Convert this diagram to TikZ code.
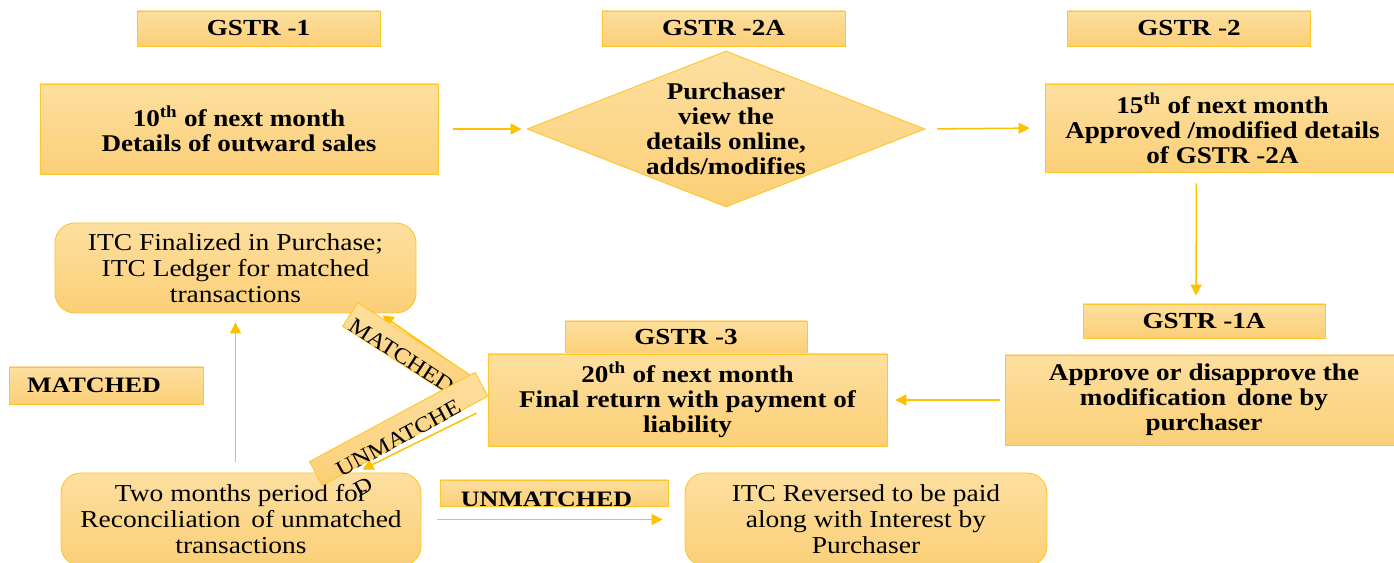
\documentclass[tikz,border=0pt]{standalone}
\usepackage{fontspec}
\setmainfont{Liberation Serif}[FakeStretch=1.13]
\newfontfamily\hdfont{Liberation Serif}[FakeStretch=1.18]
\usetikzlibrary{arrows.meta,shapes.geometric}
\definecolor{gold}{HTML}{FFC000}
\definecolor{filltop}{HTML}{FDDF9F}
\definecolor{fillbot}{HTML}{FBCF77}
\definecolor{edge}{HTML}{FFC629}
\tikzset{
  card/.style={draw=edge, line width=0.9pt, top color=filltop, bottom color=fillbot, inner sep=0pt},
  hdbox/.style={card, minimum width=243, minimum height=35, font=\hdfont\bfseries\fontsize{23}{24}\selectfont},
  mainbox/.style={card, align=center, font=\bfseries\fontsize{24}{25}\selectfont},
  maintext/.style={align=center, inner sep=0pt, font=\bfseries\fontsize{24}{25}\selectfont},
  softbox/.style={card, rounded corners=20, align=center, font=\fontsize{24.3}{26}\selectfont},
  tagtext/.style={inner sep=0pt, font=\hdfont\bfseries\fontsize{22}{24}\selectfont},
  slanttext/.style={inner sep=0pt, font=\fontsize{22}{26}\selectfont},
  conn/.style={draw=gold, line width=1.5pt, -{Triangle[length=11pt,width=11pt]}},
}
\begin{document}
\begin{tikzpicture}[x=1pt,y=1pt]
\useasboundingbox (0,0) rectangle (1394,562);
\fill[white] (0,0) rectangle (1394,562);

% top row: return headers
\node[hdbox] (h1)  at (258.5,533.5) {GSTR -1};
\node[hdbox] (h2a) at (723.5,533.5) {GSTR -2A};
\node[hdbox] (h2)  at (1189,533.5)  {GSTR -2};

% top row: steps
\node[mainbox, minimum width=398, minimum height=90] (b1) at (239,433)
  {10\textsuperscript{th} of next month\\Details of outward sales};
\node[card, shape=diamond, minimum width=398, minimum height=156] (dia) at (726,433) {};
\node[maintext] (dtxt) at (dia.center) {Purchaser\\view the\\details online,\\adds/modifies};
\node[mainbox, minimum width=355, minimum height=88] (b3) at (1222.5,434)
  {15\textsuperscript{th} of next month\\Approved /modified details\\of GSTR -2A};

% middle row
\node[hdbox, minimum width=242, minimum height=34] (h1a) at (1204,241) {GSTR -1A};
\node[mainbox, minimum width=398, minimum height=90] (b1a) at (1204,162)
  {Approve or disapprove the\\modification\, done by\\purchaser};
\node[hdbox, minimum width=242, minimum height=33] (h3) at (686,224.5) {GSTR -3};
\node[mainbox, minimum width=399, minimum height=92] (g3) at (687.5,162)
  {20\textsuperscript{th} of next month\\Final return with payment of\\liability};

% left column and bottom row
\node[softbox, minimum width=361, minimum height=90] (itc) at (235.5,294)
  {ITC Finalized in Purchase;\\ITC Ledger for matched\\transactions};
\node[card, minimum width=194, minimum height=37] (lm) at (106,176.5) {};
\node[tagtext, anchor=west] (lmt) at (27,176.5) {MATCHED};
\node[softbox, minimum width=360, minimum height=93] (tm) at (241,42.5)
  {Two months period for\\Reconciliation\, of unmatched\\transactions};
\node[card, minimum width=228, minimum height=26] (um) at (554,69) {};
\node[tagtext] (umt) at (546.5,62.5) {UNMATCHED};
\node[softbox, minimum width=362, minimum height=93] (rev) at (866,42.5)
  {ITC Reversed to be paid\\along with Interest by\\Purchaser};

% connectors
\draw[conn, shorten <=15, shorten >=5] (b1.east) -- (dia.west);
\draw[conn, shorten <=12, shorten >=15] (dia.east) -- (b3.west);
\draw[conn, shorten <=11, shorten >=8] ([xshift=-26]b3.south) -- ([xshift=-8]h1a.north);
\draw[conn, shorten <=5, shorten >=8] (b1a.west) -- (g3.east);
\draw[conn, shorten <=11, shorten >=9] (tm.north -| itc.south) -- (itc.south);
\draw[conn, shorten <=16, shorten >=22] (tm.east) -- (rev.west);
\coordinate (mfrom) at ([shift={(-20,26)}]g3.west);
\coordinate (mto)   at ([shift={(-34,-2)}]itc.south east);
\draw[conn] (mfrom) -- (mto);
\coordinate (ufrom) at ([shift={(-11,-13)}]g3.west);
\coordinate (uto)   at ([shift={(-59,3)}]tm.north east);
\draw[conn] (ufrom) -- (uto);

% slanted result labels on the two outcome arrows
\begin{scope}[shift={(407,211)}, rotate=-32.7, transform shape]
  \node[card, minimum width=135, minimum height=28] (mtag) at (0,0) {};
  \node[slanttext] (mtxt) at (-2,-7) {MATCHED};
\end{scope}
\begin{scope}[shift={(398.7,133.1)}, rotate=28.3, transform shape]
  \node[card, minimum width=188, minimum height=27] (utag) at (0,0) {};
  \node[slanttext, anchor=west] (utxt) at (-74,-8) {UNMATCHE};
  \node[slanttext, anchor=west] (utxtb) at (-68,-34) {D};
\end{scope}
\end{tikzpicture}
\end{document}
